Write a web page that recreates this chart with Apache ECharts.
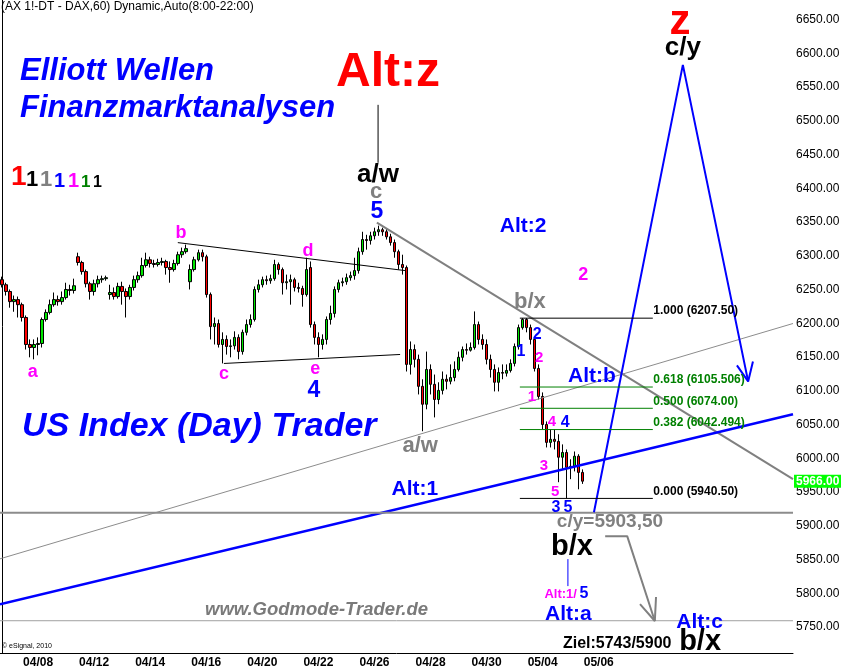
<!DOCTYPE html>
<html><head><meta charset="utf-8">
<script src="https://cdn.jsdelivr.net/npm/echarts@6/dist/echarts.min.js"></script>
<style>html,body{margin:0;padding:0;background:#fff}#c{width:841px;height:670px}</style>
</head><body><div id="c"></div>
<script>
// hourly DAX future candles (2-hour resolution): [open, close, low, high]
const ohlc = [
[6264.5,6257,6253,6269],[6257,6247,6241,6260],[6247,6232,6223,6250],[6232,6235,6217,6241],
[6235,6227.5,6208.5,6239.5],[6227.5,6208.5,6202.5,6230.5],[6208.5,6168.5,6161,6211.5],[6168.5,6164,6149.5,6176],
[6164,6168.5,6146.5,6176],[6168.5,6170,6152.5,6179],[6170,6205.5,6164,6208.5],[6205.5,6216,6202.5,6220.5],
[6216,6227.5,6213,6235],[6227.5,6235,6224.5,6245.5],[6235,6232,6226,6241],[6232,6238,6227.5,6247],
[6238,6250,6235,6260],[6250,6248.5,6241,6257],[6248.5,6255.5,6244,6266],[6298.5,6290,6285.5,6304.5],
[6290,6276.5,6272,6292.5],[6276.5,6258.5,6253,6279.5],[6258.5,6247,6235,6261.5],[6247,6258.5,6241,6264.5],
[6258.5,6264.5,6253,6270.5],[6264.5,6266,6260,6270.5],[6266,6267.5,6263,6270.5],[6242.5,6245.5,6235,6257],
[6245.5,6239.5,6235,6253],[6239.5,6254.5,6236.5,6260],[6254.5,6247,6227.5,6261.5],[6247,6239.5,6208.5,6251.5],
[6239.5,6253,6235,6257],[6253,6264.5,6248.5,6270.5],[6264.5,6270.5,6260,6276.5],[6270.5,6285.5,6267.5,6297],
[6285.5,6294,6282.5,6304.5],[6294,6288.5,6282.5,6298.5],[6288.5,6287,6282.5,6294],[6287,6290,6284,6295.5],
[6290,6291.5,6285.5,6297],[6291.5,6282.5,6272,6294],[6282.5,6279.5,6260,6291.5],[6279.5,6288.5,6276.5,6294],
[6288.5,6301.5,6285.5,6306],[6301.5,6306,6297,6312],[6306,6310.5,6303,6316.5],[6261.5,6279.5,6250,6287],
[6279.5,6294,6276.5,6298.5],[6294,6304.5,6291.5,6309],[6304.5,6298.5,6291.5,6309],[6298.5,6242.5,6238,6301.5],
[6242.5,6195,6176,6245.5],[6195,6199.5,6168.5,6208.5],[6199.5,6168.5,6164,6205.5],[6168.5,6176,6140.5,6186.5],
[6176,6165.5,6153.5,6182],[6165.5,6166.5,6149.5,6176],[6166.5,6179,6161,6188],[6179,6158,6146.5,6183.5],
[6158,6186.5,6153.5,6190.5],[6186.5,6198,6182,6205.5],[6198,6205.5,6193.5,6213],[6205.5,6250,6202.5,6254.5],
[6250,6257,6245.5,6264.5],[6257,6264.5,6253,6269],[6264.5,6263,6257,6270.5],[6263,6266,6258.5,6272],
[6266,6287,6263,6294],[6287,6279.5,6272,6290],[6279.5,6260,6242.5,6282.5],[6260,6261.5,6250,6272],
[6261.5,6264.5,6227.5,6272],[6264.5,6253,6247,6267.5],[6253,6251.5,6245.5,6260],[6251.5,6242.5,6224.5,6255.5],
[6242.5,6279.5,6239.5,6297],[6282.5,6198,6193.5,6291.5],[6198,6179,6168.5,6202.5],[6179,6168.5,6149.5,6186.5],
[6168.5,6176,6161,6183.5],[6176,6205.5,6168.5,6210],[6205.5,6214.5,6198,6226],[6214.5,6250,6208.5,6254.5],
[6250,6260,6245.5,6264.5],[6260,6261.5,6254.5,6267.5],[6261.5,6267.5,6257,6273.5],[6267.5,6270.5,6263,6276.5],
[6270.5,6278,6264.5,6297],[6278,6306,6273.5,6312],[6306,6324,6301.5,6335.5],[6324,6322.5,6309,6331],
[6322.5,6329.5,6316.5,6335.5],[6329.5,6335.5,6324,6341.5],[6335.5,6338.5,6329.5,6344.5],[6338.5,6335.5,6329.5,6341.5],
[6335.5,6328,6324,6340],[6328,6319.5,6315,6332.5],[6319.5,6306,6297,6324],[6306,6287,6279.5,6309],
[6287,6282.5,6272,6301.5],[6282.5,6139,6128.5,6285.5],[6139,6161,6124,6173],[6161,6146.5,6134.5,6168.5],
[6146.5,6106.5,6094.5,6153.5],[6106.5,6080,6040,6117],[6080,6131.5,6072.5,6158],[6131.5,6109.5,6094.5,6139],
[6109.5,6087,6060.5,6124],[6087,6100.5,6080,6112.5],[6100.5,6117,6094.5,6128.5],[6117,6114,6102,6124],
[6114,6119.5,6109.5,6139],[6119.5,6131.5,6114,6143.5],[6131.5,6149.5,6128.5,6158],[6149.5,6161,6143.5,6165.5],
[6161,6160,6153.5,6170],[6160,6164,6158,6171.5],[6164,6198,6161,6217.5],[6198,6176,6168.5,6202.5],
[6176,6168.5,6161,6183.5],[6168.5,6146.5,6139,6176],[6146.5,6131.5,6119.5,6153.5],[6131.5,6112.5,6099,6139],
[6112.5,6127,6099,6134.5],[6127,6126,6117,6139],[6126,6130,6121,6139],[6130,6140.5,6127,6146.5],
[6140.5,6165.5,6136,6170],[6165.5,6193.5,6161,6198],[6193.5,6205.5,6190.5,6207.5],[6205.5,6193.5,6186.5,6207.5],
[6193.5,6176,6168.5,6198],[6176,6133,6128.5,6180.5],[6133,6091.5,6087,6139],[6091.5,6050,6043,6097.5],
[6050,6023.5,6016,6054.5],[6023.5,6028,6016,6043],[6028,6025,6013,6043],[6025,6001.5,5964.5,6035.5],
[6001.5,6008.5,5983.5,6020.5],[6008.5,5986.5,5940.5,6013],[5986.5,5988,5969,5998.5],[5988,6003,5980.5,6010],
[6003,5979,5954,6006],[5979,5966,5962,5983.5]
];
const dateLabels = ['04/08','04/12','04/14','04/16','04/20','04/22','04/26','04/28','04/30','05/04','05/06'];
const slotCount = 198;       // bar slots across the plot (incl. future space)
const firstLabelSlot = 9, slotsPerLabel = 14;

// Fibonacci retracement: [ratio, price, text, colour key]
const fibLevels = [['1.000',6207.50,'6207.50','k'],['0.618',6105.506,'6105.506','g'],['0.500',6074.00,'6074.00','g'],['0.382',6042.494,'6042.494','g'],['0.000',5940.50,'5940.50','k']];
const fibFrom = 129.3, fibTo = 162.5;

// trend lines / arrows in [slot, price]
const trendLines = [
 ['tri',[[43.9,6319.4],[100.6,6278]]],
 ['tri',[[55.4,6140.4],[99.4,6153.7]]],
 ['grayThick',[[93.6,6349],[197.5,5969]]],
 ['grayThin',[[-0.5,5851],[197.5,6199.6]]],
 ['blueThick',[[-0.5,5783.7],[197.5,6065.2]]],
 ['grayHoriz',[[-0.5,5919.3],[197.5,5919.3]]],
 ['grayHorizThin',[[-0.5,5759.3],[197.5,5759.3]]],
 ['blue',[[147.8,5920],[170,6582.7],[186.3,6113.8]]],
 ['blue',[[183.5,6137.5],[186.3,6113.8],[187.5,6143.4]]],
 ['grayArrow',[[150.6,5884.6],[156.1,5884.6],[163,5758.9]]],
 ['grayArrow',[[159.3,5784],[163,5758.9],[163.3,5794.4]]],
 ['black',[[93.9,6523.5],[93.9,6437.7]]],
 ['blueThin',[[141.3,5850.6],[141.3,5810.6]]]
];

// wave labels: [text, slot, price, style]
const waveLabels = [
 ['Alt:z',96.4,6570.8,'altz'],['a/w',93.9,6420,'blackBig'],['c',93.4,6394.8,'grayMid'],['5',93.6,6365.3,'blueMid'],
 ['Alt:2',130.1,6343,'blueAlt'],['2',145.1,6272,'magenta'],['z',169.3,6646.3,'zRed'],['c/y',170,6607.8,'blackBig'],
 ['b',44.7,6334,'magenta'],['d',76.4,6307.6,'magenta'],['a',7.7,6127.1,'magenta'],['c',55.4,6124.2,'magenta'],
 ['e',78.2,6131.6,'magenta'],['4',77.9,6100.5,'blueMid'],['a/w',104.4,6017.7,'grayMid'],['b/x',131.8,6232.2,'grayMid'],
 ['1',129.6,6158.2,'blueSmall'],['2',133.6,6183.3,'blueSmall'],['2',134.1,6149.3,'magentaSmall'],['1',132.3,6091.6,'magentaSmall'],
 ['Alt:b',147.3,6121.2,'blueAlt'],['4',137.3,6053.2,'magentaSmall'],['4',140.6,6053.2,'blueSmall'],['3',135.3,5988,'magentaSmall'],
 ['5',138.1,5949.6,'magentaSmall'],['3',138.3,5927.5,'blueSmall'],['5',141.3,5927.5,'blueSmall'],['Alt:1',103.1,5954,'blueAlt'],
 ['c/y=5903,50',151.8,5905.3,'grayCy'],['b/x',142.3,5868.3,'bxBig'],['Alt:1/',139.5,5798.8,'magentaTiny'],['5',145.3,5798.8,'blueSmall'],
 ['Alt:a',141.4,5769.2,'blueAlt'],['Alt:c',174.2,5757.4,'blueAlt'],['b/x',174.3,5727.8,'bxBig'],['Ziel:5743/5900',153.6,5724.8,'ziel']
];

const FONT = 'Arial, "Liberation Sans", sans-serif';
const lineStyles = {
 tri:{color:'#000',width:1}, grayThick:{color:'#808080',width:2}, grayThin:{color:'#8c8c8c',width:1},
 blueThick:{color:'#0000ff',width:2.5}, grayHoriz:{color:'#8c8c8c',width:2}, grayHorizThin:{color:'#a0a0a0',width:1},
 blue:{color:'#0000ff',width:2}, grayArrow:{color:'#808080',width:2}, black:{color:'#000',width:1}, blueThin:{color:'#0000ff',width:1}
};
const labelStyles = {
 altz:{color:'#ff0000',fontSize:48,fontWeight:'bold'}, zRed:{color:'#ff0000',fontSize:42,fontWeight:'bold'},
 blackBig:{color:'#000',fontSize:26,fontWeight:'bold'}, grayMid:{color:'#808080',fontSize:22,fontWeight:'bold'},
 blueMid:{color:'#0000ff',fontSize:23,fontWeight:'bold'}, blueAlt:{color:'#0000ff',fontSize:21,fontWeight:'bold'},
 magenta:{color:'#ff00ff',fontSize:18,fontWeight:'bold'}, magentaSmall:{color:'#ff00ff',fontSize:15,fontWeight:'bold'},
 blueSmall:{color:'#0000ff',fontSize:16,fontWeight:'bold'}, grayCy:{color:'#808080',fontSize:19,fontWeight:'bold'},
 bxBig:{color:'#000',fontSize:29,fontWeight:'bold'}, magentaTiny:{color:'#ff00ff',fontSize:13,fontWeight:'bold'},
 ziel:{color:'#000',fontSize:16,fontWeight:'bold'}
};

const categories = Array.from({length:slotCount},()=> '');
dateLabels.forEach((d,k)=>{ categories[firstLabelSlot + k*slotsPerLabel] = d; });
const lastClose = ohlc[ohlc.length-1][1];
const noBorder = {textBorderWidth:0, textBorderColor:'transparent', textShadowBlur:0, opacity:1};

const series = [];
series.push({
  type:'candlestick', xAxisIndex:0, yAxisIndex:0, data:ohlc, barWidth:3, z:2,
  itemStyle:{color:'#00e600', color0:'#ff0000', borderColor:'#000', borderColor0:'#000', borderWidth:1},
  markLine:{silent:true, symbol:['none','none'], data:[{yAxis:lastClose}],
    lineStyle:{color:'rgba(0,0,0,0)', width:0},
    label:Object.assign({show:true, position:'end', distance:1, formatter:lastClose.toFixed(2), backgroundColor:'#00ff00', color:'#ffffff',
      fontFamily:FONT, fontWeight:'bold', fontSize:12, padding:[1,2,0,2]}, noBorder)}
});
trendLines.forEach(([k,pts])=>{
  series.push({type:'line', xAxisIndex:1, yAxisIndex:0, data:pts, symbol:'none', z:3, silent:true,
    lineStyle:Object.assign({type:'solid'}, lineStyles[k])});
});
fibLevels.forEach(([r,p,t,c])=>{
  const col = c==='g' ? '#008000' : '#000';
  series.push({type:'line', xAxisIndex:1, yAxisIndex:0, data:[[fibFrom,p],[fibTo,p]], symbol:'none', z:3, silent:true,
    lineStyle:{color:col,width:1}});
});
const hiddenDot = {color:'rgba(0,0,0,0)', opacity:1};
series.push({
  type:'scatter', xAxisIndex:1, yAxisIndex:0, symbolSize:1, z:5, silent:true,
  itemStyle:hiddenDot,
  data: waveLabels.map(w=>({name:w[0], value:[w[1],w[2]], itemStyle:hiddenDot,
    label:Object.assign({show:true, position:'inside', formatter:'{b}', fontFamily:FONT}, noBorder, labelStyles[w[3]])}))
});
series.push({
  type:'scatter', xAxisIndex:1, yAxisIndex:0, symbolSize:1, z:5, silent:true,
  itemStyle:hiddenDot,
  data: fibLevels.map(([r,p,t,c])=>({name:r+' ('+t+')', value:[fibTo,p], itemStyle:hiddenDot,
    label:Object.assign({show:true, position:'right', distance:0, offset:[0,-7], formatter:'{b}', fontFamily:FONT, fontSize:12,
      fontWeight:'bold', color: c==='g' ? '#008000' : '#000'}, noBorder)}))
});

const chart = echarts.init(document.getElementById('c'), null, {renderer:'canvas'});
chart.setOption({
  animation:false,
  backgroundColor:'#fff',
  grid:{left:0, right:48, top:0, bottom:17, containLabel:false, outerBoundsMode:'none'},
  xAxis:[
    {type:'category', data:categories, boundaryGap:true, axisLine:{show:true,lineStyle:{color:'#000',width:1}},
     axisTick:{show:false}, splitLine:{show:false},
     axisLabel:{interval:0, color:'#000', fontFamily:FONT, fontSize:12, fontWeight:'bold', margin:4}},
    {type:'value', min:-0.5, max:slotCount-0.5, show:false}
  ],
  yAxis:[{type:'value', position:'right', min:5711.5, max:6678.8, splitNumber:19, scale:true,
    axisLine:{show:true, lineStyle:{color:'#000',width:1}}, axisTick:{show:false}, splitLine:{show:false},
    axisLabel:{color:'#000', fontFamily:FONT, fontSize:12, margin:3,
      formatter:v => (Math.abs(v/50 - Math.round(v/50))<1e-6 ? v.toFixed(2) : '')}}],
  graphic:[
    {type:'text', x:1, y:7, style:{text:'(AX 1!-DT - DAX,60) Dynamic,Auto(8:00-22:00)', font:'12px '+FONT, fill:'#000', verticalAlign:'middle'}},
    {type:'text', x:20, y:71, style:{text:'Elliott Wellen', font:'italic bold 31px '+FONT, fill:'#0000ff', verticalAlign:'middle'}},
    {type:'text', x:20, y:108, style:{text:'Finanzmarktanalysen', font:'italic bold 31px '+FONT, fill:'#0000ff', verticalAlign:'middle'}},
    {type:'text', x:22, y:427, style:{text:'US Index (Day) Trader', font:'italic bold 34px '+FONT, fill:'#0000ff', verticalAlign:'middle'}},
    {type:'text', x:205, y:610, style:{text:'www.Godmode-Trader.de', font:'italic bold 18.5px '+FONT, fill:'#7a7a7a', verticalAlign:'middle'}},
    {type:'text', x:2, y:646, style:{text:'© eSignal, 2010', font:'7px '+FONT, fill:'#000', verticalAlign:'middle'}},
    {type:'text', x:11, y:191, style:{text:'1', font:'bold 28px '+FONT, fill:'#ff0000', verticalAlign:'bottom'}},
    {type:'text', x:26, y:191, style:{text:'1', font:'bold 22px '+FONT, fill:'#000', verticalAlign:'bottom'}},
    {type:'text', x:40, y:191, style:{text:'1', font:'bold 22px '+FONT, fill:'#808080', verticalAlign:'bottom'}},
    {type:'text', x:54, y:191, style:{text:'1', font:'bold 20px '+FONT, fill:'#0000ff', verticalAlign:'bottom'}},
    {type:'text', x:68, y:191, style:{text:'1', font:'bold 20px '+FONT, fill:'#ff00ff', verticalAlign:'bottom'}},
    {type:'text', x:81, y:191, style:{text:'1', font:'bold 17px '+FONT, fill:'#008000', verticalAlign:'bottom'}},
    {type:'text', x:93, y:191, style:{text:'1', font:'bold 16px '+FONT, fill:'#000', verticalAlign:'bottom'}}
  ],
  series:series
});
</script></body></html>
